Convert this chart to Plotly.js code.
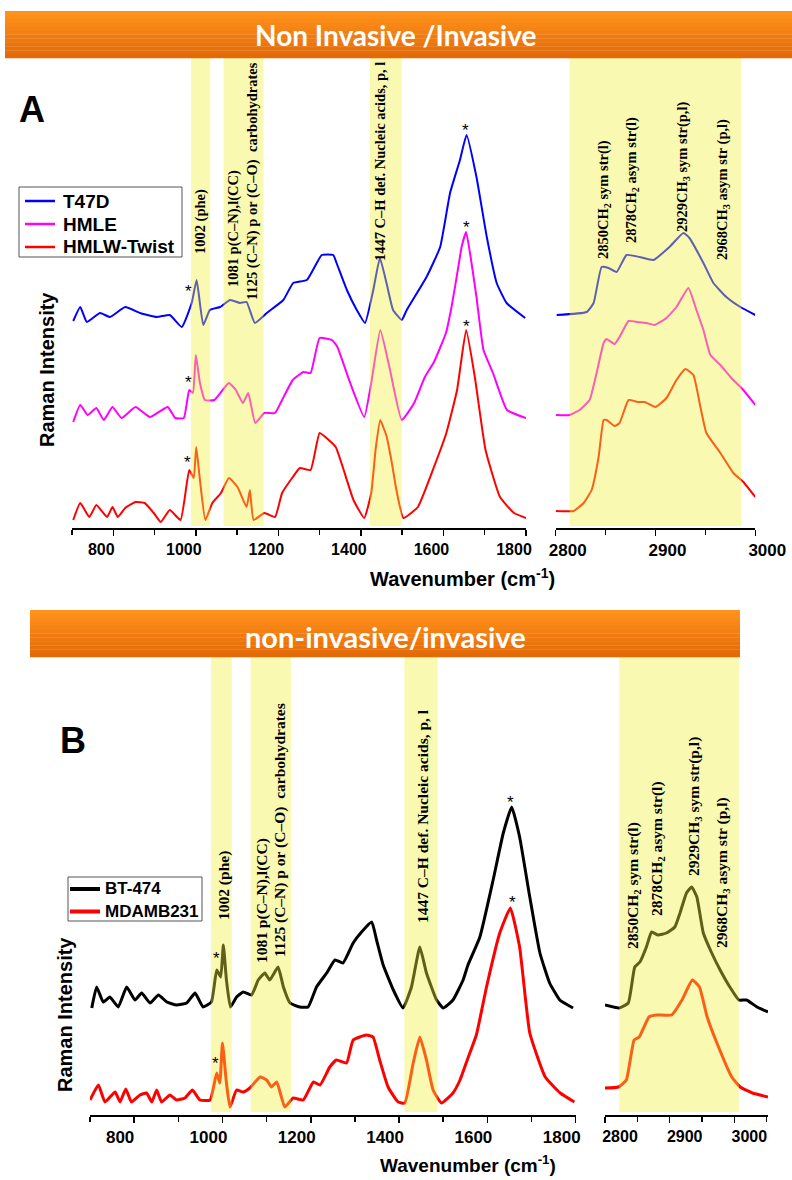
<!DOCTYPE html>
<html><head><meta charset="utf-8">
<script src="https://cdn.plot.ly/plotly-3.0.1.min.js"></script>
<style>body{margin:0;background:#fff}#chart{width:792px;height:1180px}</style>
</head><body><div id="chart"></div>
<script>
// ---------------- DATA (Raman intensity, arbitrary units, offset as drawn) ----------------
// Panel A, fingerprint region
const A_fp_T47D_x = [703,720,736,768,792,829,865,905,937,966,990,1002,1018,1034,1059,1083,1107,1123,1143,1172,1212,1236,1269,1293,1305,1333,1341,1366,1390,1410,1430,1446,1462,1478,1499,1511,1559,1592,1616,1640,1656,1680,1705,1729,1753,1798];
const A_fp_T47D_y = [207,221,206,215,211,221,215,211,213,201,225,248,203,218,221,228,225,226,205,215,228,245,248,265,273,273,265,238,218,205,238,270,245,218,208,218,251,281,335,368,393,351,291,245,225,210];
const A_fp_HMLE_x = [703,720,738,759,777,798,820,854,889,932,950,971,984,993,1000,1010,1022,1045,1080,1097,1114,1127,1144,1166,1192,1209,1235,1261,1278,1300,1330,1343,1374,1408,1425,1447,1469,1499,1529,1555,1577,1606,1620,1636,1644,1655,1668,1680,1697,1720,1754,1800];
const A_fp_HMLE_y = [106,123,113,120,108,121,110,121,111,121,110,110,138,135,173,145,128,128,145,138,125,135,105,115,115,128,148,156,155,190,188,181,145,111,145,198,161,108,125,151,166,195,222,261,281,296,265,231,178,155,118,110];
const A_fp_Twist_x = [703,720,742,759,785,798,811,829,854,876,898,915,937,963,984,995,1001,1010,1023,1040,1061,1080,1101,1123,1131,1140,1166,1192,1209,1235,1252,1278,1300,1322,1339,1356,1382,1408,1425,1436,1447,1454,1462,1475,1486,1503,1538,1577,1607,1633,1655,1676,1702,1737,1771,1800];
const A_fp_Twist_y = [8,25,11,23,11,21,11,20,26,25,15,6,18,8,58,50,81,48,8,25,35,50,41,21,38,8,15,11,35,51,60,58,95,88,81,61,28,10,35,80,108,101,92,65,38,10,21,61,95,138,198,151,78,31,15,10];
// Panel A, high-wavenumber region
const A_hw_T47D_x = [2801,2831,2838,2846,2853,2861,2871,2884,2898,2914,2928,2934,2948,2958,2971,2985,3000];
const A_hw_T47D_y = [213,216,225,261,260,256,273,271,268,281,295,290,265,245,231,221,213];
const A_hw_HMLE_x = [2800,2814,2824,2834,2841,2848,2851,2859,2864,2873,2882,2891,2899,2911,2921,2933,2941,2948,2955,2965,2976,2988,3000];
const A_hw_HMLE_y = [113,113,118,128,155,185,189,184,191,207,206,205,203,210,221,240,218,198,173,163,150,138,123];
const A_hw_Twist_x = [2800,2818,2828,2836,2843,2848,2851,2859,2864,2873,2882,2889,2900,2911,2921,2930,2938,2945,2951,2965,2978,2988,3000];
const A_hw_Twist_y = [17,17,25,38,71,108,108,102,105,128,126,126,121,130,148,159,153,121,95,75,55,46,31];
// Panel B, fingerprint region
const B_fp_BT474_x = [704,715,730,745,764,783,802,817,836,855,874,896,919,938,956,975,987,996,1002,1009,1018,1032,1047,1066,1081,1096,1107,1126,1138,1153,1175,1194,1213,1236,1255,1273,1296,1315,1338,1349,1364,1387,1409,1428,1447,1462,1485,1500,1522,1545,1556,1583,1613,1636,1655,1673,1696,1719,1741,1764,1794];
const B_fp_BT474_y = [107,128,113,118,108,128,115,122,112,120,113,110,112,122,108,113,145,138,170,135,108,118,123,120,135,142,135,148,128,112,108,108,128,142,155,152,172,183,193,175,150,125,107,128,168,142,115,107,115,135,150,178,235,282,308,278,218,162,132,115,107];
const B_fp_MDA_x = [700,719,734,757,768,781,794,813,828,840,851,862,881,896,915,932,949,972,987,994,1000,1009,1017,1032,1047,1062,1085,1100,1111,1123,1141,1160,1183,1206,1221,1243,1258,1281,1296,1326,1341,1356,1375,1398,1413,1432,1447,1462,1477,1496,1522,1538,1556,1575,1598,1628,1652,1673,1696,1731,1765,1797];
const B_fp_MDA_y = [15,30,13,23,13,26,13,20,22,13,25,13,20,15,17,25,15,15,42,32,72,32,8,25,23,27,38,35,28,33,8,17,15,33,30,48,55,52,75,80,78,55,28,13,12,52,78,55,25,12,22,35,57,80,128,182,207,168,82,38,22,13];
// Panel B, high-wavenumber region
const B_hw_BT474_x = [2800,2822,2836,2846,2854,2864,2872,2882,2895,2908,2916,2926,2934,2942,2952,2965,2978,2993,3007,3019,3035,3052];
const B_hw_BT474_y = [110,107,112,148,153,168,183,180,182,188,202,222,228,218,182,162,145,128,115,115,108,103];
const B_hw_MDA_x = [2800,2821,2833,2845,2853,2868,2880,2903,2919,2935,2946,2958,2973,2996,3009,3028,3052];
const B_hw_MDA_y = [27,28,35,75,78,98,100,100,115,135,128,98,72,38,28,22,18];

// Shaded band ranges (cm-1)
const A_bands_fp = [[988,1035],[1067,1164],[1422,1499]];
const A_bands_hw = [[2814,2986]];
const B_bands_fp = [[974,1021],[1064,1155],[1412,1487]];
const B_bands_hw = [[2822,3007]];

// Texts
const seriesA = ['T47D','HMLE','HMLW-Twist'];
const seriesB = ['BT-474','MDAMB231'];
const colorsA = ['#0000ff','#ff00ff','#ff0000'];
const colorsB = ['#000000','#ff0000'];
const bandLabels = ['1002 (phe)','1081 p(C\u2013N),l(CC)','1125 (C\u2013N) p or (C\u2013O)  carbohydrates','1447 C\u2013H def. Nucleic acids, p, l'];
const hwLabels = ['2850CH<sub>2</sub> sym str(l)','2878CH<sub>2</sub> asym str(l)','2929CH<sub>3</sub> sym str(p,l)','2968CH<sub>3</sub> asym str (p,l)'];
const bannerA = 'Non Invasive /Invasive';
const bannerB = 'non-invasive/invasive';
const yTitle = 'Raman Intensity';
const xTitle = 'Wavenumber (cm<sup>-1</sup>)';

// ---------------- LAYOUT HELPERS ----------------
const W = 792, H = 1180;
const fx = p => p / W;
const fy = p => 1 - p / H;

const sans = 'Liberation Sans, Arial, sans-serif';
const serif = 'Liberation Serif, Times New Roman, serif';

function ln(x, y, color, w, xa, ya) {
  return {x, y, xaxis: xa, yaxis: ya, type: 'scatter', mode: 'lines', showlegend: false,
    hoverinfo: 'skip', line: {color, width: w, shape: 'spline', smoothing: 0.4}};
}

const traces = [
  ln(A_fp_T47D_x, A_fp_T47D_y, colorsA[0], 2, 'x', 'y'),
  ln(A_fp_HMLE_x, A_fp_HMLE_y, colorsA[1], 2, 'x', 'y'),
  ln(A_fp_Twist_x, A_fp_Twist_y, colorsA[2], 2, 'x', 'y'),
  ln(A_hw_T47D_x, A_hw_T47D_y, colorsA[0], 2, 'x2', 'y'),
  ln(A_hw_HMLE_x, A_hw_HMLE_y, colorsA[1], 2, 'x2', 'y'),
  ln(A_hw_Twist_x, A_hw_Twist_y, colorsA[2], 2, 'x2', 'y'),
  ln(B_fp_BT474_x, B_fp_BT474_y, colorsB[0], 3, 'x3', 'y3'),
  ln(B_fp_MDA_x, B_fp_MDA_y, colorsB[1], 3, 'x3', 'y3'),
  ln(B_hw_BT474_x, B_hw_BT474_y, colorsB[0], 3, 'x4', 'y3'),
  ln(B_hw_MDA_x, B_hw_MDA_y, colorsB[1], 3, 'x4', 'y3')
];

function xax(domain, range, t0, dt, mdt, anchor, fs, shift) {
  return {domain, range, anchor, tickmode: 'linear', tick0: t0, dtick: dt,
    showline: true, linecolor: '#000', linewidth: 1.5, ticks: 'outside', ticklen: 6,
    tickwidth: 1.5, tickcolor: '#000', showgrid: false, zeroline: false, fixedrange: true,
    ticklabelshift: shift,
    minor: {dtick: mdt, ticks: 'outside', ticklen: 5, tickwidth: 1.5, tickcolor: '#000', showgrid: false},
    tickfont: {family: sans, size: fs, color: '#000', weight: 'bold'}};
}
function yax(domain, range) {
  return {domain, range, showline: false, showticklabels: false, ticks: '', showgrid: false,
    zeroline: false, fixedrange: true};
}

const shapes = [];
function bands(list, xref, top, bottom) {
  list.forEach(b => shapes.push({type: 'rect', xref, yref: 'paper', x0: b[0], x1: b[1],
    y0: fy(bottom), y1: fy(top), fillcolor: 'rgb(240,240,60)', opacity: 0.4,
    line: {width: 0}, layer: 'above'}));
}
bands(A_bands_fp, 'x', 58, 526);
bands(A_bands_hw, 'x2', 58, 526);
bands(B_bands_fp, 'x3', 656, 1112);
bands(B_bands_hw, 'x4', 656, 1112);

function banner(x0, x1, y0, y1) {
  const n = 12, c0 = [255, 146, 28], c1 = [228, 106, 8];
  for (let i = 0; i < n; i++) {
    const t = i / (n - 1);
    const c = c0.map((v, k) => Math.round(v + (c1[k] - v) * t));
    shapes.push({type: 'rect', xref: 'paper', yref: 'paper', x0: fx(x0), x1: fx(x1),
      y0: fy(y0 + (y1 - y0) * (i + 1) / n + 0.3), y1: fy(y0 + (y1 - y0) * i / n),
      fillcolor: `rgb(${c[0]},${c[1]},${c[2]})`, line: {width: 0}, layer: 'above'});
  }
}
banner(5, 792, 11, 58);
banner(30, 740, 610, 657);

const ann = [];
function txt(text, x, y, size, opts) {
  ann.push(Object.assign({text, x: fx(x), y: fy(y), xref: 'paper', yref: 'paper',
    showarrow: false, xanchor: 'center', yanchor: 'middle',
    font: {family: sans, size, color: '#000', weight: 'bold'}}, opts || {}));
}

// custom legends (box, line samples, labels)
function legend(names, colors, x0, y0, x1, y1, rows, lx0, lx1, tx, lw, fs) {
  shapes.push({type: 'rect', xref: 'paper', yref: 'paper', x0: fx(x0), x1: fx(x1), y0: fy(y1), y1: fy(y0),
    fillcolor: '#fff', line: {color: '#555', width: 1}, layer: 'above'});
  names.forEach((n, i) => {
    shapes.push({type: 'line', xref: 'paper', yref: 'paper', x0: fx(lx0), x1: fx(lx1), y0: fy(rows[i]), y1: fy(rows[i]),
      line: {color: colors[i], width: lw}, layer: 'above'});
    txt(n, tx, rows[i], fs, {xanchor: 'left'});
  });
}
legend(seriesA, colorsA, 19, 187, 182, 257, [201, 224, 247], 25, 55, 61, 2.5, 19);
legend(seriesB, colorsB, 68, 877, 202, 921, [889, 911.5], 70, 100, 103, 4, 17);

// banners
txt(bannerA, 396, 35, 28, {font: {family: 'Lato, sans-serif', size: 28, color: '#fff', weight: 'bold'}});
txt(bannerB, 385, 636, 29, {font: {family: 'Lato, sans-serif', size: 29, color: '#fff', weight: 'bold'}});
// panel letters
txt('A', 32, 110, 36);
txt('B', 73, 740, 36);
// axis titles
txt(yTitle, 47, 370, 20, {textangle: -90});
txt(yTitle, 65, 1015, 20, {textangle: -90});
txt(xTitle, 463, 577, 20);
txt(xTitle, 468, 1164, 19);
// band labels
const sf = (s) => ({font: {family: serif, size: s, color: '#000', weight: 'bold'}, textangle: -90});
const A_labPos = [[200,222],[233,228],[253,181],[380,162]];
const A_hwPos = [[604,200],[632,180],[683,167],[723,190]];
const B_labPos = [[224,886],[262,901],[280,830],[422,816]];
const B_hwPos = [[633,886],[657,849],[694,807],[722,873]];
bandLabels.forEach((t, i) => txt(t, A_labPos[i][0], A_labPos[i][1], 14.5, sf(14.5)));
hwLabels.forEach((t, i) => txt(t, A_hwPos[i][0], A_hwPos[i][1], 14.5, sf(14.5)));
bandLabels.forEach((t, i) => txt(t, B_labPos[i][0], B_labPos[i][1], 15.5, sf(15.5)));
hwLabels.forEach((t, i) => txt(t, B_hwPos[i][0], B_hwPos[i][1], 15.5, sf(15.5)));

// asterisks placed above local maxima of the data
function localMax(xs, ys, c, hw) {
  let m = -1e9;
  xs.forEach((v, i) => { if (v >= c - hw && v <= c + hw && ys[i] > m) m = ys[i]; });
  return m;
}
function star(xs, ys, c, xref, yref, dy, dx) {
  const m = localMax(xs, ys, c, 9);
  ann.push({text: '*', x: c + (dx || 0), y: m, xref, yref, showarrow: false, xanchor: 'center',
    yanchor: 'middle', yshift: dy, font: {family: sans, size: 17, color: '#000'}});
}
star(A_fp_T47D_x, A_fp_T47D_y, 985, 'x', 'y', 12, -2);
star(A_fp_HMLE_x, A_fp_HMLE_y, 984, 'x', 'y', 8, -2);
star(A_fp_Twist_x, A_fp_Twist_y, 984, 'x', 'y', 8, -3);
star(A_fp_T47D_x, A_fp_T47D_y, 1655, 'x', 'y', 4, -2);
star(A_fp_HMLE_x, A_fp_HMLE_y, 1655, 'x', 'y', 4, 2);
star(A_fp_Twist_x, A_fp_Twist_y, 1655, 'x', 'y', 4, 2);
star(B_fp_BT474_x, B_fp_BT474_y, 987, 'x3', 'y3', 12, 0);
star(B_fp_MDA_x, B_fp_MDA_y, 987, 'x3', 'y3', 10, -2);
star(B_fp_BT474_x, B_fp_BT474_y, 1655, 'x3', 'y3', 5, -3);
star(B_fp_MDA_x, B_fp_MDA_y, 1652, 'x3', 'y3', 6, 5);

const layout = {
  width: W, height: H, margin: {l: 0, r: 0, t: 0, b: 0},
  paper_bgcolor: '#fff', plot_bgcolor: 'rgba(0,0,0,0)', showlegend: false,
  xaxis: xax([fx(72), fx(526)], [700, 1800], 800, 200, 100, 'y', 16, -12),
  xaxis2: xax([fx(555.7), fx(755.3)], [2800, 3000], 2800, 100, 50, 'y', 17, 12),
  xaxis3: xax([fx(90), fx(575.7)], [700, 1800], 800, 200, 100, 'y3', 17, -14),
  xaxis4: xax([fx(605), fx(768)], [2800, 3052], 2800, 100, 50, 'y3', 16, 15),
  yaxis: yax([fy(528), fy(60)], [0, 468]),
  yaxis3: yax([fy(1115), fy(657)], [0, 458]),
  shapes, annotations: ann
};
Plotly.newPlot('chart', traces, layout, {staticPlot: true, displayModeBar: false});
</script></body></html>
